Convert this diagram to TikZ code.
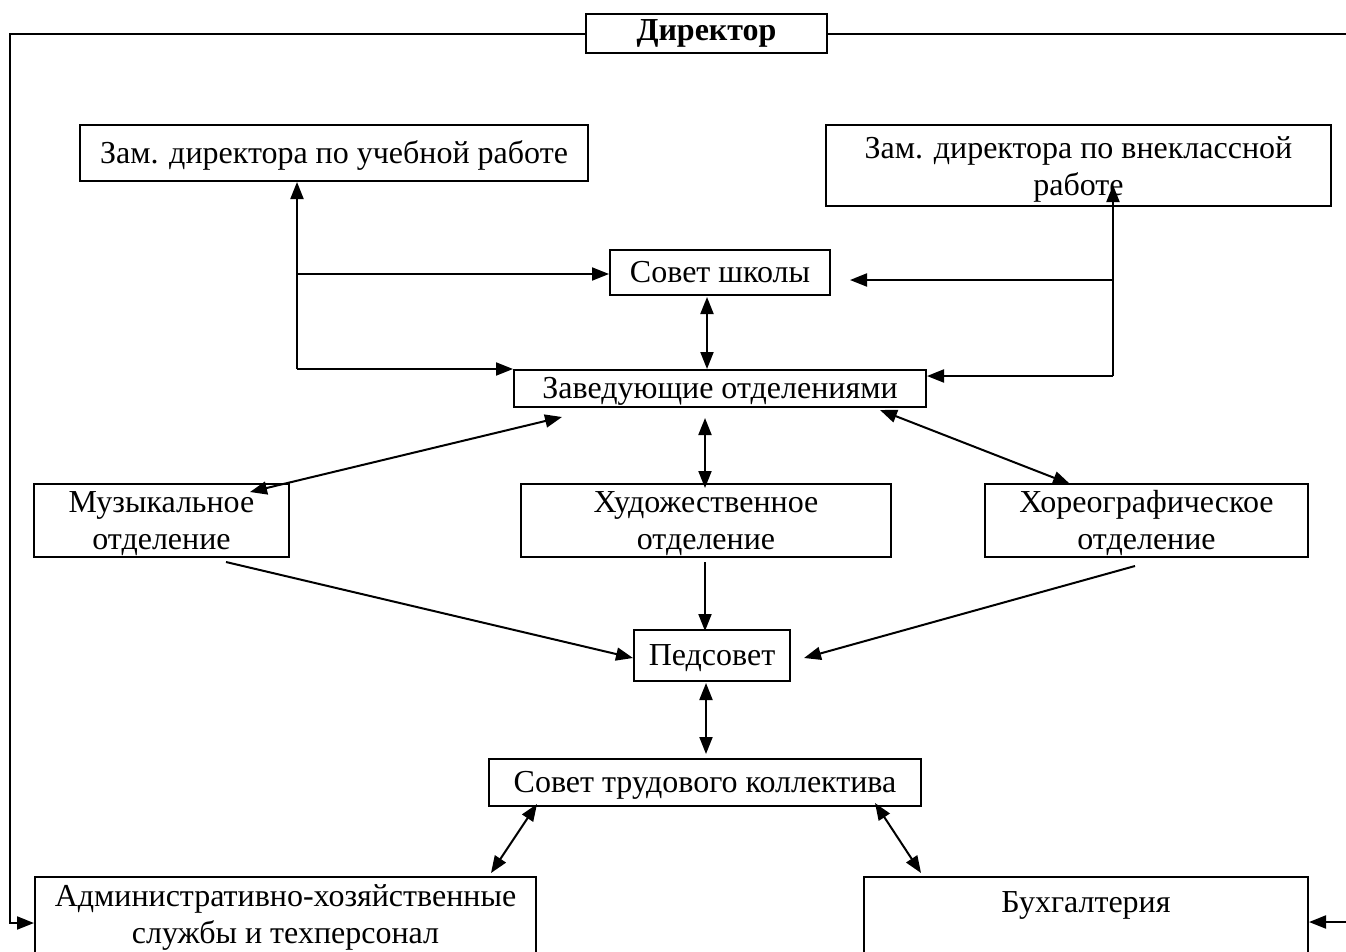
\documentclass[tikz,border=0pt]{standalone}
\usepackage{fontspec}
\setmainfont{Liberation Serif}
\usetikzlibrary{arrows.meta}
\tikzset{
  box/.style={draw, line width=2pt, inner sep=0pt, align=center, font=\fontsize{32}{37}\selectfont},
  one/.style={text height=24pt, text depth=4pt},
  two/.style={text height=63pt, text depth=6pt},
  ln/.style={line width=2pt},
  tip/.style={-{Triangle[length=17pt,width=13pt]}},
  dtip/.style={{Triangle[length=17pt,width=13pt]}-{Triangle[length=17pt,width=13pt]}},
}
\begin{document}
\begin{tikzpicture}[x=1pt,y=-1pt]
\useasboundingbox (0,0) rectangle (1346,951);
\clip (0,0) rectangle (1346,951);
% nodes
\node[box, minimum width=241, minimum height=39, font=\fontsize{32}{37}\selectfont\bfseries] (dir) at (706.5,33.5) {Директор};
\node[box, one, minimum width=508, minimum height=56] (zu) at (334,153) {Зам. директора по учебной работе};
\node[box, minimum width=505, minimum height=81, text height=69pt, text depth=10pt] (zv) at (1078.5,165.5) {Зам. директора по внеклассной\\работе};
\node[box, one, minimum width=220, minimum height=45] (ss) at (720,272.5) {Совет школы};
\node[box, one, minimum width=412, minimum height=37] (zav) at (720,388.5) {Заведующие отделениями};
\node[box, two, minimum width=255, minimum height=73] (muz) at (161.5,520.5) {Музыкальное\\отделение};
\node[box, two, minimum width=370, minimum height=73] (hud) at (706,520.5) {Художественное\\отделение};
\node[box, two, minimum width=323, minimum height=73] (hor) at (1146.5,520.5) {Хореографическое\\отделение};
\node[box, one, minimum width=156, minimum height=51] (ped) at (712,655.5) {Педсовет};
\node[box, one, minimum width=432, minimum height=47] (str) at (705,782.5) {Совет трудового коллектива};
\node[box, anchor=north, minimum width=501, text height=55pt, text depth=30pt, inner ysep=11pt] (adm) at (285.5,876) {Административно-хозяйственные\\службы и техперсонал};
\node[box, anchor=north, minimum width=444, text height=24pt, text depth=70pt, inner ysep=11pt] (buh) at (1086,876) {Бухгалтерия};
% coordinates
\coordinate (lx) at (297,274);
\coordinate (rx) at (1113,280);
\coordinate (lb) at (9.5,923);
\coordinate (rb) at (1350,922);
% director loops
\draw[ln,tip] (dir.west) -- (dir.west -| lb) -- (lb) -- (lb -| adm.west);
\draw[ln,tip] (dir.east) -- (dir.east -| rb) -- (rb) -- (rb -| buh.east);
% left deputy
\draw[ln,tip] (zav.north west -| lx) -- (zu.south -| lx);
\draw[ln,tip] (zav.north west -| lx) -- (zav.north west);
\draw[ln,tip] (lx) -- (lx -| ss.west);
% right deputy
\coordinate (rlow) at (1113,376);
\draw[ln,tip] (rlow) -- (1113,185);
\draw[ln,tip] (rlow) -- (rlow -| zav.east);
\draw[ln,tip] (rx) -- (850,280);
% center
\draw[ln,dtip] (707,297) -- (707,369);
\draw[ln,dtip] (562,417) -- (250,492);
\draw[ln,dtip] (705,418) -- (705,488);
\draw[ln,dtip] (880,410) -- (1070,484);
\draw[ln,tip] (226,562) -- (633,658);
\draw[ln,tip] (705,562) -- (705,631);
\draw[ln,tip] (1135,566) -- (804,658);
\draw[ln,dtip] (706,683) -- (706,754);
\draw[ln,dtip] (537,804) -- (491,873);
\draw[ln,dtip] (875,803) -- (921,873);
\end{tikzpicture}
\end{document}
